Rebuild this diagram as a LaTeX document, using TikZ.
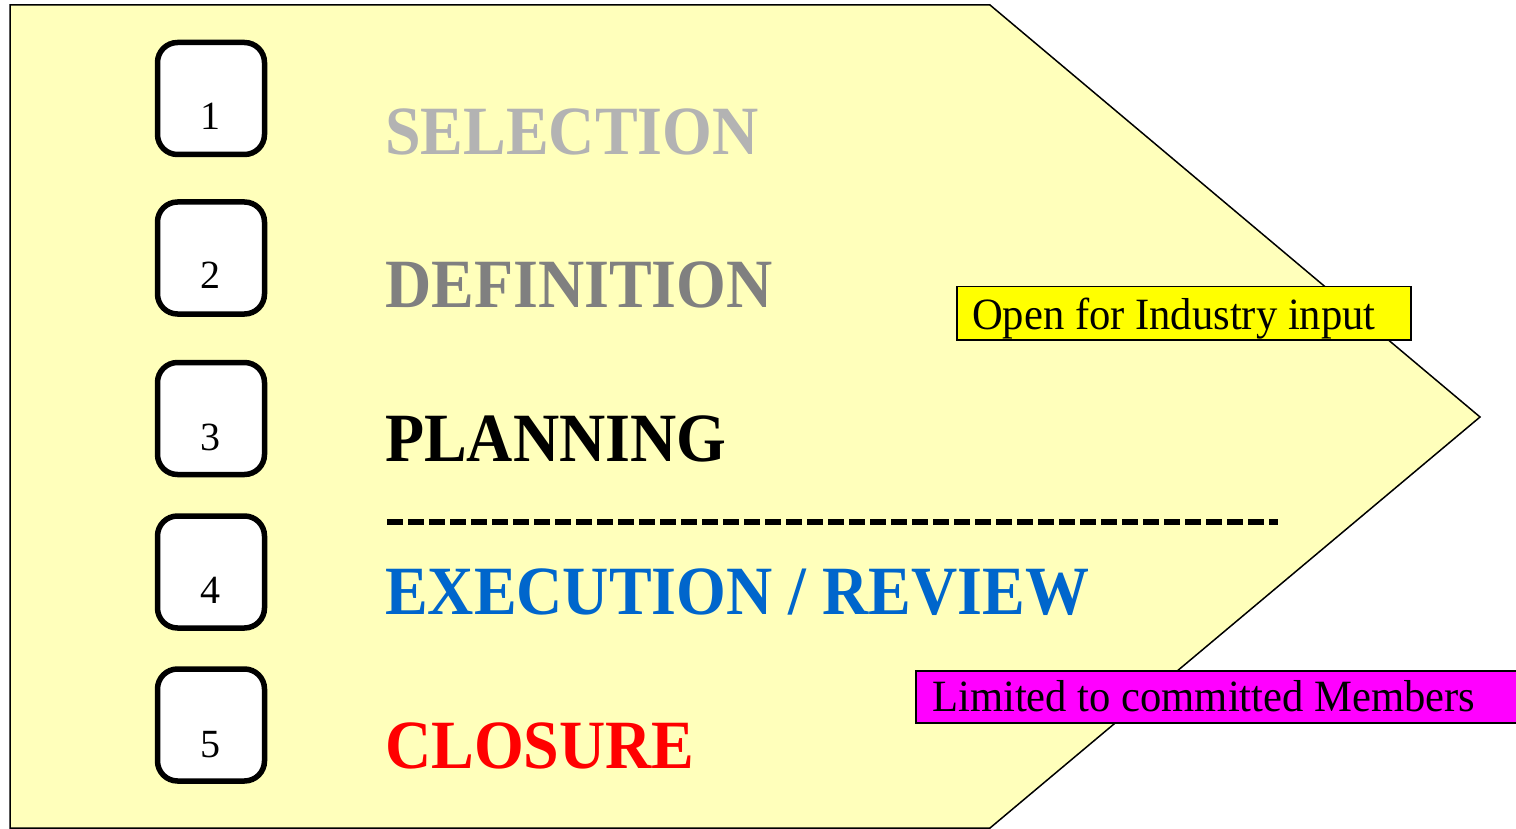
\documentclass[tikz,border=0pt]{standalone}
\usepackage{fontspec}
\setmainfont{Liberation Serif}
\definecolor{paleyellow}{HTML}{FFFFBB}
\definecolor{lightgraytxt}{HTML}{B3B3B3}
\definecolor{darkgraytxt}{HTML}{808080}
\definecolor{bluetxt}{HTML}{0066CC}
\definecolor{redtxt}{HTML}{FF0000}
\definecolor{noteyellow}{HTML}{FFFF00}
\definecolor{notemagenta}{HTML}{FF00FF}
\newcommand{\stagefont}{\fontsize{64}{70}\selectfont\bfseries}
\newcommand{\stagetext}[1]{\scalebox{1}[1.08]{#1}}
\newcommand{\notetext}[1]{\scalebox{1}[1.05]{#1}}
\tikzset{
  stagebox/.style={draw=black, fill=white, line width=5.5pt, rounded corners=20pt,
    minimum width=107pt, minimum height=112pt, inner sep=0pt},
  stagenum/.style={anchor=base, inner sep=0pt, font=\fontsize{40}{44}\selectfont},
  stagelabel/.style={anchor=base west, inner sep=0pt, font=\stagefont},
  notebox/.style={draw=black, line width=1.5pt, anchor=north west, inner sep=0pt},
  notelabel/.style={anchor=base west, inner sep=0pt, font=\fontsize{42.6}{46}\selectfont}
}
\begin{document}
\begin{tikzpicture}[x=1pt,y=-1pt]
\useasboundingbox (0,0) rectangle (1516,829);
% arrow-shaped background
\draw[fill=paleyellow, line width=1.5pt, line join=miter]
  (10,5) -- (990,5) -- (1480,417) -- (990,828) -- (10,828) -- cycle;
% boxes
\node[stagebox] (b1) at (211,98.5) {};
\node[stagebox] (b2) at (211,258) {};
\node[stagebox] (b3) at (211,418.5) {};
\node[stagebox] (b4) at (211,572) {};
\node[stagebox] (b5) at (211,725) {};
\node[stagenum] (n1) at (210,130) {1};
\node[stagenum] (n2) at (210,289) {2};
\node[stagenum] (n3) at (210,450) {3};
\node[stagenum] (n4) at (210,603) {4};
\node[stagenum] (n5) at (210,757) {5};
% stage labels
\node[stagelabel, text=lightgraytxt] (l1) at (385,155) {\stagetext{SELECTION}};
\node[stagelabel, text=darkgraytxt] (l2) at (385,308) {\stagetext{DEFINITION}};
\node[stagelabel, text=black] (l3) at (385,461) {\stagetext{PLANNING}};
\node[stagelabel, text=bluetxt] (l4) at (385,614) {\stagetext{EXECUTION / REVIEW}};
\node[stagelabel, text=redtxt] (l5) at (385,768) {\stagetext{CLOSURE}};
% divider
\coordinate (dl) at (387,522);
\coordinate (dr) at (1278,522);
\draw[line width=6pt, dash pattern=on 16pt off 5pt] (dl) -- (dr);
% notes
\node[notebox, fill=noteyellow, minimum width=454pt, minimum height=53pt] (openbox) at (956,286) {};
\node[notelabel] (open) at (972,329) {\notetext{Open for Industry input}};
\node[notebox, fill=notemagenta, minimum width=610pt, minimum height=52pt] (limitedbox) at (915,670) {};
\node[notelabel] (limited) at (932,711) {\notetext{Limited to committed Members}};
\end{tikzpicture}
\end{document}
